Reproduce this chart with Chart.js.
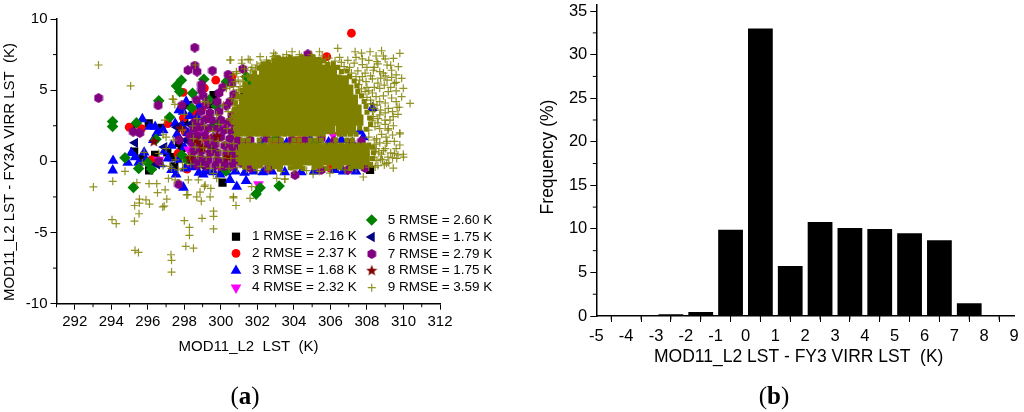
<!DOCTYPE html>
<html>
<head>
<meta charset="utf-8">
<title>MOD11_L2 LST vs FY3A VIRR LST</title>
<script src="https://cdn.jsdelivr.net/npm/chart.js@4/dist/chart.umd.min.js"></script>
<style>
    html, body { margin: 0; padding: 0; background: #fff; }
    #page { position: relative; width: 1024px; height: 412px; overflow: hidden; }
    #scatterBox { position: absolute; left: 0; top: 0; width: 520px; height: 412px; }
    #histBox { position: absolute; left: 520px; top: 0; width: 504px; height: 412px; }
    .caption {
        position: absolute; top: 382px; width: 60px; text-align: center;
        font: 25px "Liberation Serif", serif; color: #000;
    }
    .caption b { font-weight: bold; }
</style>
</head>
<body>
<div id="page">
    <div id="scatterBox"><canvas id="scatterChart" width="520" height="412"></canvas></div>
    <div id="histBox"><canvas id="histChart" width="504" height="412"></canvas></div>
    <div class="caption" style="left:215px">(<b>a</b>)</div>
    <div class="caption" style="left:744px">(<b>b</b>)</div>
</div>
<script>
// --- Panel (a) values as [MOD11_L2 LST, difference] ---
const seriesNames = ['1 RMSE = 2.16 K', '2 RMSE = 2.37 K', '3 RMSE = 1.68 K', '4 RMSE = 2.32 K', '5 RMSE = 2.60 K', '6 RMSE = 1.75 K', '7 RMSE = 2.79 K', '8 RMSE = 1.75 K', '9 RMSE = 3.59 K'];

const series1 = [[296.05,2.67],[295.1,2.4],[295.25,0.68],[297.07,0.63],[296.4,0.45],[295.7,0.2],[296.07,-0.63],[298.2,3.95],[299.6,4.66],[300.09,-1.49],[298.4,0.1],[297.7,1.3],[298.9,3.6],[299.4,4.0],[299.5,0.9],[301.27,4.54],[301.97,5.53],[308.17,-0.6],[297.3,0.3],[298.0,2.9],[297.85,0.95],[297.45,-0.35],[296.75,2.35]];

const series2 = [[307.15,9.0],[305.8,7.35],[299.72,5.7],[299.1,5.15],[297.93,4.85],[294.98,2.4],[295.65,2.3],[297.1,2.65],[298.05,2.05],[299.0,3.8],[298.6,3.35],[297.65,0.55],[299.2,1.6],[298.15,-0.55],[300.05,-0.7],[306.0,-0.47],[306.85,3.96],[300.6,5.9],[299.3,3.0],[296.2,0.1],[297.95,3.05],[298.7,2.4],[304.3,1.45],[302.9,1.3]];

const series3 = [[294.1,0.05],[294.08,-0.63],[295.7,2.97],[296.1,2.44],[296.4,2.44],[296.84,2.2],[295.1,0.6],[295.8,0.63],[295.3,0.3],[295.9,0.1],[296.3,1.5],[297.5,2.67],[297.93,3.5],[298.3,3.2],[298.7,3.1],[297.1,0.2],[296.7,-0.2],[297.3,-0.6],[295.5,-0.1],[296.2,-0.4],[297.55,-0.91],[297.95,-1.84],[298.04,-0.5],[298.4,-0.4],[298.8,-0.8],[299.04,-0.91],[299.3,-0.7],[299.6,-0.75],[299.96,-0.91],[300.5,-1.3],[300.87,-1.78],[301.38,-1.38],[300.3,-0.75],[300.8,-0.7],[301.3,-0.8],[301.8,-0.7],[302.3,-0.75],[302.8,-0.7],[303.5,-0.75],[304.4,-0.75],[305.1,-0.7],[306.25,-0.6],[306.7,-0.7],[307.4,-0.7],[307.8,1.7],[305.9,1.35],[308.3,3.75],[307.6,2.1],[297.6,1.9],[298.0,1.0],[297.7,0.1],[297.3,1.1],[298.8,3.9],[297.7,3.6],[298.1,4.2],[302.2,1.35],[303.6,1.3],[304.9,1.55],[306.6,1.5],[307.2,1.3],[297.9,2.5],[298.2,2.0],[296.9,0.7],[294.9,-0.1],[296.5,2.0]];

const series4 = [[298.24,0.82],[302.06,-1.61],[306.15,1.85],[299.0,1.9],[300.2,2.4],[296.6,0.1]];

const series5 = [[297.84,5.7],[297.57,5.3],[297.75,4.9],[298.45,4.78],[299.07,5.77],[300.3,5.6],[296.6,4.25],[297.2,3.1],[294.07,2.8],[294.07,2.45],[295.38,2.7],[294.75,0.25],[296.45,1.55],[295.21,-1.83],[295.5,-0.5],[296.0,-0.1],[297.86,0.45],[298.1,0.15],[299.96,2.8],[299.35,4.3],[299.75,3.9],[298.4,3.75],[300.29,-0.67],[302.15,-1.85],[301.93,-2.3],[303.19,-1.73],[301.4,5.95],[301.55,5.4],[299.6,2.5],[298.9,0.1],[296.2,-0.55],[303.0,1.6],[305.2,1.25]];

const series6 = [[296.9,1.0],[297.6,2.4],[298.1,1.5],[299.0,-0.3],[295.3,1.3],[296.5,-0.2],[298.3,2.6],[307.2,-0.3]];

const series7 = [[298.57,7.99],[298.57,6.73],[298.2,6.4],[298.7,6.3],[299.54,6.37],[293.3,4.45],[298.94,5.4],[298.94,5.0],[299.03,4.6],[296.57,3.93],[298.66,4.3],[297.86,3.93],[295.2,2.08],[295.56,2.0],[304.76,7.52],[301.2,6.49],[300.4,6.1],[300.6,5.5],[300.1,5.2],[299.9,4.8],[299.8,4.2],[299.2,4.0],[298.9,3.5],[299.4,3.4],[299.9,3.5],[300.3,3.9],[300.7,4.7],[300.5,4.2],[300.6,3.2],[298.6,2.8],[299.1,2.9],[299.5,2.9],[300.0,2.9],[300.4,2.7],[300.8,2.6],[298.5,2.3],[298.9,2.4],[299.3,2.3],[299.8,2.3],[300.2,2.2],[300.6,2.1],[301.0,2.1],[298.3,1.8],[298.7,1.8],[299.1,1.8],[299.6,1.7],[300.0,1.7],[300.5,1.6],[300.9,1.5],[297.7,1.5],[298.4,1.3],[298.8,1.2],[299.3,1.2],[299.7,1.2],[300.2,1.1],[300.6,1.0],[301.0,1.0],[298.5,0.7],[298.9,0.7],[299.4,0.6],[299.8,0.6],[300.3,0.5],[300.7,0.5],[301.1,0.4],[298.4,0.2],[298.9,0.2],[299.3,0.1],[299.8,0.1],[300.2,0.0],[300.7,0.0],[301.1,-0.1],[298.7,-0.25],[299.2,-0.3],[299.7,-0.3],[300.2,-0.35],[300.6,-0.3],[297.68,-1.61],[296.6,0.0],[304.06,-0.96],[306.96,-0.6],[307.9,-0.47],[301.6,-0.45],[302.6,-0.5],[305.5,-0.6],[303.2,1.4],[304.6,1.5],[307.1,1.3],[307.5,3.0],[301.6,1.5],[302.5,1.6],[303.9,1.5],[305.5,1.6],[306.2,1.4],[301.3,1.3],[307.7,1.4]];

const series8 = [[296.33,1.38],[297.8,2.3],[298.7,1.38],[299.8,1.73],[299.0,0.93],[298.3,0.2],[300.4,0.3],[306.7,3.5]];

// the part of series 9 too dense to tell single crosses apart
const series9Dense = [
    [303.1,6.9],[303.65,6.95],[304.2,6.9],[304.75,6.95],[305.25,6.9],
    [302.4,6.4],[302.85,6.4],[303.4,6.4],[303.95,6.4],[304.5,6.4],[305.05,6.4],[305.6,6.4],[306.05,6.35],
    [301.95,5.7],[302.45,5.7],[303.0,5.7],[303.55,5.7],[304.1,5.7],[304.65,5.7],[305.2,5.7],[305.75,5.7],[306.3,5.7],[306.7,5.65],
    [301.5,5.0],[302.0,5.0],[302.55,5.0],[303.1,5.0],[303.65,5.0],[304.2,5.0],[304.75,5.0],[305.3,5.0],[305.85,5.0],[306.4,5.0],[306.95,5.0],
    [301.3,4.3],[301.75,4.3],[302.3,4.3],[302.85,4.3],[303.4,4.3],[303.95,4.3],[304.5,4.3],[305.05,4.3],[305.6,4.3],[306.15,4.3],[306.7,4.3],[307.2,4.3],
    [301.1,3.6],[301.55,3.6],[302.1,3.6],[302.65,3.6],[303.2,3.6],[303.75,3.6],[304.3,3.6],[304.85,3.6],[305.4,3.6],[305.95,3.6],[306.5,3.6],[307.05,3.6],[307.4,3.6],
    [301.0,2.9],[301.45,2.9],[302.0,2.9],[302.55,2.9],[303.1,2.9],[303.65,2.9],[304.2,2.9],[304.75,2.9],[305.3,2.9],[305.85,2.9],[306.4,2.9],[306.95,2.9],[307.5,2.9],
    [301.1,2.25],[301.5,2.2],[302.05,2.2],[302.6,2.2],[303.15,2.2],[303.7,2.2],[304.25,2.2],[304.8,2.2],[305.35,2.2],[305.95,2.3],[306.6,2.25],[307.1,2.3],
    [301.25,0.8],[301.8,0.8],[302.35,0.8],[302.9,0.8],[303.45,0.8],[304.0,0.8],[304.55,0.8],[305.1,0.8],[305.65,0.8],[306.2,0.8],[306.75,0.8],[307.3,0.8],[307.85,0.8],
    [301.25,0.1],[301.8,0.1],[302.35,0.1],[302.9,0.1],[303.45,0.1],[304.0,0.1],[304.55,0.1],[305.1,0.1],[305.65,0.1],[306.2,0.1],[306.75,0.1],[307.3,0.1],[307.85,0.1],
    [302.0,-0.1],[303.1,-0.15],[304.2,-0.15],[305.3,-0.1],[306.4,-0.1],[307.4,-0.1]
];

// rim of that dense part and the speckled strip below it, thinner clumps of crosses
const series9Clumps = [
    [302.6,6.95],[302.9,7.1],[303.15,7.25],[303.5,7.15],[303.8,7.3],[304.1,7.2],[304.45,7.3],[304.75,7.2],[305.05,7.3],[305.35,7.15],[305.65,7.05],[305.85,6.8],[306.15,6.85],[306.4,6.6],[306.6,6.3],[306.9,6.35],[307.05,5.95],[307.3,5.65],[307.45,5.3],[307.5,4.9],[307.7,4.6],[307.85,4.2],[307.95,3.85],[308.0,3.45],[308.15,3.05],[308.2,2.6],[307.95,2.25],[307.6,2.35],
    [302.75,6.75],[302.35,6.85],[302.1,6.55],[301.85,6.2],[301.6,5.8],[301.35,5.45],[301.15,5.0],[300.95,4.55],[300.8,4.1],[300.75,3.65],[300.7,3.2],[300.7,2.75],[300.8,2.3],[300.85,1.9],
    [301.1,1.9],[301.4,1.9],[301.7,1.9],[302.0,1.9],[302.3,1.9],[302.6,1.9],[302.9,1.9],[303.2,1.9],[303.5,1.9],[303.8,1.9],[304.1,1.9],[304.4,1.9],[304.7,1.9],[305.0,1.9],[305.3,1.9],[305.6,1.9],[306.5,1.9],[306.8,1.9],[307.1,1.9],[307.4,1.9],
    [301.2,1.5],[301.5,1.5],[302.1,1.5],[302.7,1.5],[303.0,1.5],[303.3,1.5],[304.0,1.5],[304.3,1.5],[304.9,1.5],[305.2,1.5],[305.5,1.5],[306.3,1.5],[306.9,1.5],[307.2,1.5],
    [301.2,1.15],[301.5,1.15],[301.8,1.15],[302.1,1.15],[302.4,1.15],[302.7,1.15],[303.0,1.15],[303.3,1.15],[303.6,1.15],[303.9,1.15],[304.2,1.15],[304.5,1.15],[304.8,1.15],[305.1,1.15],[305.4,1.15],[305.7,1.15],[306.0,1.15],[306.3,1.15],[306.6,1.15],[306.9,1.15],[307.2,1.15],[307.5,1.15],[307.8,1.15],[308.1,1.15],
    [301.3,-0.35],[301.9,-0.4],[302.6,-0.45],[303.2,-0.5],[303.8,-0.45],[304.5,-0.5],[305.1,-0.45],[305.8,-0.5],[306.5,-0.45],[307.1,-0.5],[307.7,-0.4],[308.2,-0.2],[308.3,0.2],[308.35,0.6],[308.3,1.0],[300.95,0.6],[300.95,0.15]
];

const series9 = [
    [293.3,6.77],[295.06,5.3],[293.02,-1.8],[294.04,-4.1],[294.27,-4.38],[295.27,-4.2],[295.28,-3.1],[295.54,-2.93],[295.54,-2.65],[295.9,-2.7],[296.09,-3],[295.52,-3.68],[295.4,-1.5],[296.07,-1.57],[296.49,-1.57],[296.53,-2.2],[296.95,-2],[297.04,-2.65],[296.82,-3.2],[296.9,-3.15],[295.3,-6.25],[295.49,-6.4],[297.27,-6.56],[297.3,-6.95],[297.3,-7.78],[298,-4.17],[298.28,-4.64],[298.28,-5.2],[298.08,-5.97],[298.5,-6.1],[298.97,-4],[299.6,-3.5],[299.6,-3.86],[299.6,-4.75],[298.93,-2.8],[298.68,-2.5],[298.19,-2.34],[299.41,-2.5],[299.1,-1.76],[299.45,-1.9],[298.86,-2.16],[298.77,-1.3],[298.22,-1.3],[297.13,-1.2],[294.75,-0.7],[294.08,-1.4],[300.69,-2.57],[300.83,-3.1],[301.6,-2.6],[303.5,-1.24],[298.13,-2.36],[300.69,-2.48],[299.14,-1.66],[297.5,-1.3],[301.69,-1.78],[303.06,-1.19],[299.77,-1.19],[297.3,-0.49],[297.95,-0.49],[299.59,-0.84],[296.84,-0.3],[297.2,-0.35],[297.66,-0.6],[295.7,-0.1],[295.8,0.63],[296.84,1.87],[297,1.7],[296.93,2.9],[297.35,4.38],[297.48,4],[297.4,4.36],
    [298.6,6.77],[300.5,7.12],[300.54,7.12],[301.14,6.89],[301.6,7.12],[301.97,6.77],[302.5,7.12],[302.88,7.35],[302.15,7.35],[301.5,7.17],[301.15,7.12],[302.9,7.6],[303.9,7.7],[303.4,7.3],[304.4,7.35],[305.4,7.7],[305.0,7.3],[305.9,7.25],[306.4,7.94],[306.5,7.3],[307.35,7.7],[307.7,7.6],[306.95,7.1],[307.3,6.9],[307.75,6.8],[308.17,7.7],[308.5,7.4],[308.8,7.77],[309.8,7.59],[309.45,7.24],[308.1,7.1],[309.1,6.77],[309.72,6.65],[308.4,6.6],[308.7,6.3],[307.9,6.2],[309.6,6.07],[309.9,5.83],[309.1,5.7],[308.3,5.8],[307.6,5.7],[309.5,5.48],[309.99,5.13],[308.7,5.13],[308.0,5.2],[309.17,4.9],[308.3,4.8],[309.9,4.54],[310.36,4.07],[308.7,4.2],[308.0,4.5],[309.65,3.8],[309.17,3.72],[309.77,3.8],[308.3,3.5],[308.7,3.26],[309.44,3.14],[308.99,2.9],[308.35,3.14],[309.26,2.9],[308.44,2.44],[309.15,2.2],[309.17,2.3],[308.1,2.2],[309.8,1.92],[309.8,2.0],[308.53,1.6],[308.1,1.7],[308.7,1.3],[309.1,1.4],[309.08,1.27],[309.8,1.15],[309.6,0.9],[309.99,0.5],[310,0.3],[309.63,0.2],[309.3,0.6],[309.0,0.9],[308.5,0.9],[308.8,0.5],[308.4,0.3],[309.08,-0.14],[308.6,-0.3],[308.1,-0.4],[309.44,-0.47],[308.85,0.1],[307.8,-1.1],[305.05,-0.9],[305.97,-0.83],[303.5,-1.25],
    [300.87,6.18],[301.24,5.95],[300.78,5.6],[300.96,5],[300.69,5.25],[300.3,5.13],[300.14,3.96],[300.4,3.49],[300.78,4.3],[300.5,3],[299.77,3.26],[299.1,4.19],[299.3,4.1],[301.05,3.14],[300.85,6.3],[300.67,6.07],[300.49,5.25],[300.95,5.7],[301.3,6.5],[301.7,6.6],[302.2,6.9],[301.6,6.1],[301.3,5.3],[301.1,4.7],
    [298.7,3.0],[299.1,2.5],[299.55,2.1],[299.9,2.6],[300.35,2.3],[300.75,1.9],[298.5,1.6],[298.95,1.5],[299.4,1.5],[299.85,1.4],[300.25,1.3],[300.7,1.25],[298.6,1.0],[299.05,0.95],[299.5,0.85],[299.95,0.75],[300.4,0.7],[300.85,0.7],[298.3,0.4],[298.75,0.35],[299.2,0.3],[299.65,0.3],[300.1,0.25],[300.55,0.2],[301,0.2],[297.5,0.1],[297.9,-0.1],[298.35,-0.2],[298.9,-0.35],[299.4,-0.5],[299.95,-0.4],[300.45,-0.5],[300.9,-0.45],[301.4,-0.55],[302.0,-0.65],[302.6,-0.6],[303.3,-0.7],[304.0,-0.6],[304.7,-0.65],[305.4,-0.7],[306.1,-0.5],[306.8,-0.6],[307.4,-0.5],[298.0,3.3],[298.45,2.5],[297.9,2.2],[297.4,1.5],[297.0,0.9],[296.6,0.55],
    // just outside the clumps, top and right
    [306.25,7.05],[306.6,6.95],[306.75,6.65],[307.05,6.6],[307.15,6.2],[307.5,6.35],[307.4,5.95],[307.75,5.95],[307.55,5.4],[307.95,5.6],[307.7,5.1],[308.1,4.95],[307.9,4.9],[308.2,4.3],[308.2,4.05],[308.35,4.0],[308.4,3.7],[308.3,2.85],[308.6,2.7],[308.75,3.6],[308.9,4.6],[308.6,5.5],[308.9,6.2],[308.2,6.0],[308.55,7.0],[303.0,7.45],[303.6,7.5],[304.3,7.5],[304.95,7.5],[305.55,7.4],
    [308.6,6.85],[309.0,7.2],[309.35,6.4],[309.0,6.0],[309.35,5.9],[308.4,5.2],[308.95,5.35],[309.3,5.2],[309.6,4.95],[308.5,4.55],[309.35,4.45],[309.6,4.2],[308.55,3.95],[309.0,4.1],[309.4,3.5],[309.0,3.4],[308.6,3.0],[309.7,3.3],[309.0,2.6],[308.7,2.3],[309.45,2.5],[308.8,1.9],[309.4,1.85],[309.05,1.7],[309.5,1.4],[308.4,1.5],[308.35,6.4],[308.0,6.6],[308.75,5.85],[309.6,5.55],[307.75,7.2],[307.4,7.3],[308.9,7.4],[309.3,6.75],
    // just outside the clumps, left
    [301.0,2.7],[300.75,3.9],[300.6,3.45],[300.55,2.9],[300.6,4.4],[300.85,4.8],[301.05,5.25],[301.2,5.6],[301.45,6.0],[301.65,6.4],[301.9,6.5],[302.2,6.6],[302.5,6.9],
    // right end of the lower band
    [308.45,0.7],[308.5,0.05],[308.65,0.6],[308.75,0.15],[308.9,0.75],[309.15,0.3],[309.2,-0.1],[309.4,0.25],[308.95,-0.25],[308.45,-0.4],[308.5,1.2],[309.5,0.55],[309.7,0.45]
];

// --- Panel (b) values ---
const binCentres = [-4.5, -3.5, -2.5, -1.5, -0.5, 0.5, 1.5, 2.5, 3.5, 4.5, 5.5, 6.5, 7.5, 8.5];
const frequency = [0.05, 0.1, 0.2, 0.45, 9.9, 33, 5.75, 10.8, 10.1, 10, 9.5, 8.7, 1.45, 0.03];

// --- Tick positions ---
const scatterXTicks = [292, 294, 296, 298, 300, 302, 304, 306, 308, 310, 312];
const scatterXMinor = [291, 293, 295, 297, 299, 301, 303, 305, 307, 309, 311];
const scatterYTicks = [-10, -5, 0, 5, 10];
const scatterYMinor = [-7.5, -2.5, 2.5, 7.5];
const histXTicks = [-5, -4, -3, -2, -1, 0, 1, 2, 3, 4, 5, 6, 7, 8, 9];
const histXMinor = [-4.5, -3.5, -2.5, -1.5, -0.5, 0.5, 1.5, 2.5, 3.5, 4.5, 5.5, 6.5, 7.5, 8.5];
const histYTicks = [0, 5, 10, 15, 20, 25, 30, 35];
const histYMinor = [2.5, 7.5, 12.5, 17.5, 22.5, 27.5, 32.5];

const FONT = '"Liberation Sans", Arial, sans-serif';

// Chart.js has no filled hexagon or star, so they go in as small canvases
function polygonMarker(size, color, points) {
    const c = document.createElement('canvas');
    c.width = size;
    c.height = size;
    const g = c.getContext('2d');
    g.fillStyle = color;
    g.beginPath();
    points.forEach((p, i) => {
        const x = size / 2 + p[0] * size / 2;
        const y = size / 2 + p[1] * size / 2;
        if (i === 0) g.moveTo(x, y); else g.lineTo(x, y);
    });
    g.closePath();
    g.fill();
    return c;
}

const hexPoints = [];
for (let i = 0; i < 6; i++) {
    const a = Math.PI / 6 + i * Math.PI / 3;
    hexPoints.push([Math.cos(a), Math.sin(a)]);
}
const starPoints = [];
for (let i = 0; i < 10; i++) {
    const a = -Math.PI / 2 + i * Math.PI / 5;
    const r = i % 2 ? 0.42 : 1;
    starPoints.push([r * Math.cos(a), r * Math.sin(a)]);
}
const hexagon = polygonMarker(10, '#800080', hexPoints);
const star = polygonMarker(12, '#800000', starPoints);

function scatterSet(label, points, color, pointStyle, radius, order, extra) {
    return Object.assign({
        label: label,
        data: points.map(p => ({ x: p[0], y: p[1] })),
        pointStyle: pointStyle,
        pointRadius: radius,
        backgroundColor: color,
        borderColor: color,
        borderWidth: 0,
        order: order,
        showLine: false
    }, extra || {});
}

// Minor ticks: half the length of the major ones
const minorTicks = {
    id: 'minorTicks',
    afterDraw(chart, args, opts) {
        const ctx = chart.ctx;
        const area = chart.chartArea;
        ctx.save();
        ctx.strokeStyle = '#000';
        ctx.lineWidth = 1;
        ctx.beginPath();
        opts.x.forEach(v => {
            const px = chart.scales.x.getPixelForValue(v);
            ctx.moveTo(px, area.bottom);
            ctx.lineTo(px, area.bottom + 3.5);
        });
        opts.y.forEach(v => {
            const py = chart.scales.y.getPixelForValue(v);
            ctx.moveTo(area.left, py);
            ctx.lineTo(area.left - 3.5, py);
        });
        ctx.stroke();
        ctx.restore();
    }
};

// Axis titles sit off-centre in the reference, so they are placed by hand
const axisTitles = {
    id: 'axisTitles',
    afterDraw(chart, args, opts) {
        const ctx = chart.ctx;
        ctx.save();
        ctx.fillStyle = '#000';
        ctx.font = opts.size + 'px ' + FONT;
        ctx.textAlign = 'center';
        ctx.textBaseline = 'middle';
        ctx.fillText(opts.xText, opts.xAt[0], opts.xAt[1]);
        ctx.translate(opts.yAt[0], opts.yAt[1]);
        ctx.rotate(-Math.PI / 2);
        ctx.fillText(opts.yText, 0, 0);
        ctx.restore();
    }
};

// Two column legend inside panel (a)
const legendSlots = [[236, 236.7], [236, 253.3], [236, 270.7], [236, 287.7], [371.7, 220], [371.7, 237], [371.7, 254], [371.7, 270.7], [371.7, 287.7]];
const scatterLegend = {
    id: 'scatterLegend',
    afterDraw(chart) {
        const ctx = chart.ctx;
        chart.data.datasets.forEach(ds => {
            const slot = legendSlots[seriesNames.indexOf(ds.label)];
            if (!slot) return;
            ctx.save();
            ctx.fillStyle = ds.backgroundColor;
            ctx.strokeStyle = ds.borderColor;
            ctx.lineWidth = ds.borderWidth;
            Chart.helpers.drawPoint(ctx, {
                pointStyle: ds.pointStyle,
                radius: ds.pointRadius,
                rotation: ds.rotation || 0,
                borderWidth: ds.borderWidth
            }, slot[0], slot[1]);
            ctx.fillStyle = '#000';
            ctx.font = '13.5px ' + FONT;
            ctx.textBaseline = 'middle';
            ctx.textAlign = 'left';
            ctx.fillText(ds.label, slot[0] + 16, slot[1]);
            ctx.restore();
        });
    }
};

function axisOptions(min, max, ticks, fontSize, size, pad, horizontal) {
    return {
        type: 'linear',
        min: min,
        max: max,
        offset: false,
        afterBuildTicks: scale => { scale.ticks = ticks.map(v => ({ value: v })); },
        afterFit: scale => {
            // the plot box is pinned, tick labels may hang over its ends
            if (horizontal) scale.height = size; else scale.width = size;
            scale.paddingTop = 0;
            scale.paddingBottom = 0;
            scale.paddingLeft = 0;
            scale.paddingRight = 0;
        },
        border: { display: true, color: '#000', width: 1.5 },
        grid: {
            drawOnChartArea: false,
            drawTicks: true,
            tickLength: 6,
            tickColor: '#000',
            tickWidth: 1
        },
        ticks: {
            color: '#000',
            autoSkip: false,
            maxRotation: 0,
            padding: pad,
            font: { family: FONT, size: fontSize }
        }
    };
}

document.addEventListener('DOMContentLoaded', () => {
    // --- Panel (a): scatter ---
    new Chart(document.getElementById('scatterChart'), {
        type: 'scatter',
        data: {
            datasets: [
                scatterSet(seriesNames[0], series1, '#000000', 'rect', 5.8, 11),
                scatterSet(seriesNames[1], series2, '#ff0000', 'circle', 4.4, 10),
                scatterSet(seriesNames[2], series3, '#0000ff', 'triangle', 6.2, 9),
                scatterSet(seriesNames[3], series4, '#ff00ff', 'triangle', 6.2, 8, { rotation: 180 }),
                scatterSet(seriesNames[4], series5, '#008000', 'rectRot', 5.8, 7),
                scatterSet(seriesNames[5], series6, '#000080', 'triangle', 6, 6, { rotation: -90 }),
                scatterSet(seriesNames[6], series7, '#800080', hexagon, 5, 5),
                scatterSet(seriesNames[7], series8, '#800000', star, 6, 4),
                scatterSet('9 dense', series9Dense, '#808000', 'rect', 8, 3),
                scatterSet('9 clumps', series9Clumps, '#808000', 'rect', 3.6, 2),
                scatterSet(seriesNames[8], series9, 'rgba(128,128,0,0.85)', 'cross', 4, 1, { borderWidth: 1.2 })
            ]
        },
        options: {
            responsive: false,
            animation: false,
            layout: { padding: { left: 0, top: 19, right: 80, bottom: 0 } },
            plugins: {
                legend: { display: false },
                tooltip: { enabled: false },
                minorTicks: { x: scatterXMinor, y: scatterYMinor },
                axisTitles: {
                    size: 15,
                    xText: 'MOD11_L2  LST  (K)',
                    xAt: [248.5, 347],
                    yText: 'MOD11_L2 LST - FY3A VIRR LST  (K)',
                    yAt: [10, 172]
                }
            },
            scales: {
                x: axisOptions(291, 312, scatterXTicks, 15, 108.3, 3, true),
                y: axisOptions(-10, 10, scatterYTicks, 15, 56.5, 3, false)
            }
        },
        plugins: [minorTicks, axisTitles, scatterLegend]
    });

    // --- Panel (b): histogram ---
    new Chart(document.getElementById('histChart'), {
        type: 'bar',
        data: {
            datasets: [{
                label: 'Frequency',
                data: binCentres.map((c, i) => ({ x: c, y: frequency[i] })),
                backgroundColor: '#000',
                barPercentage: 0.83,
                categoryPercentage: 1
            }]
        },
        options: {
            responsive: false,
            animation: false,
            layout: { padding: { left: 0, top: 5, right: 10, bottom: 0 } },
            plugins: {
                legend: { display: false },
                tooltip: { enabled: false },
                minorTicks: { x: histXMinor, y: histYMinor },
                axisTitles: {
                    size: 17.5,
                    xText: 'MOD11_L2 LST - FY3 VIRR LST  (K)',
                    xAt: [278.7, 357],
                    yText: 'Frequency (%)',
                    yAt: [28, 157]
                }
            },
            scales: {
                x: axisOptions(-5, 9, histXTicks, 16.5, 96, 5, true),
                y: axisOptions(0, 35.7, histYTicks, 16.5, 76.3, 3, false)
            }
        },
        plugins: [minorTicks, axisTitles]
    });
});
</script>
</body>
</html>
